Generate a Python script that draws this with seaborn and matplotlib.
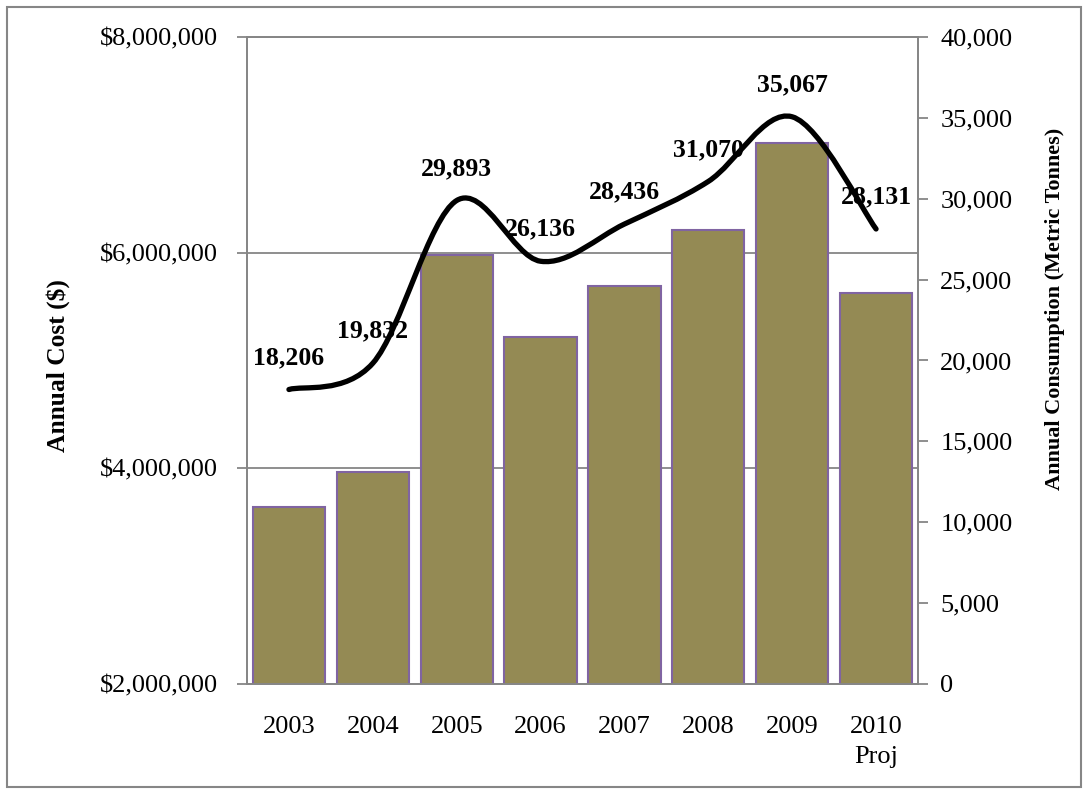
import numpy as np
import pandas as pd
import matplotlib
matplotlib.use("Agg")
import matplotlib.pyplot as plt
import seaborn as sns
from matplotlib.path import Path
from matplotlib.patches import PathPatch, Rectangle
from matplotlib.ticker import FuncFormatter

# Data
years = ["2003", "2004", "2005", "2006", "2007", "2008", "2009", "2010\nProj"]
cost = [3640000, 3970000, 5980000, 5220000, 5690000, 6210000, 7020000, 5630000]
consumption = [18206, 19832, 29893, 26136, 28436, 31070, 35067, 28131]

sns.set_theme(style="white")
plt.rcParams['font.family'] = ['Liberation Serif', 'DejaVu Serif']
plt.rcParams['text.color'] = 'black'
plt.rcParams['xtick.color'] = 'black'
plt.rcParams['ytick.color'] = 'black'

GRAY = "#868686"
fig = plt.figure(figsize=(10.89, 7.94), dpi=100)
ax = fig.add_axes([247/1089, 1-684/794, (918-247)/1089, (684-37)/794])

df = pd.DataFrame({"year": years, "cost": cost})
sns.barplot(data=df, x="year", y="cost", color="#948A54", saturation=1,
            width=0.86, edgecolor="#8064A2", linewidth=1.5, ax=ax)
ax.set_xlim(-0.5, len(years)-0.5)
ax.set_ylim(2000000, 8000000)
ax.set_yticks([2000000, 4000000, 6000000, 8000000])
ax.yaxis.set_major_formatter(FuncFormatter(lambda v, p: f"${v:,.0f}"))
ax.set_xlabel("")
ax.set_ylabel("")
ax.set_axisbelow(True)
ax.yaxis.grid(True, color=GRAY, linewidth=1.3)

# category labels centred, tick marks between categories
ax.set_xticks(np.arange(len(years)))
ax.set_xticklabels(years, linespacing=1.45)
ax.set_xticks(np.arange(-0.5, len(years), 1), minor=True)
ax.tick_params(axis='x', which='major', length=0, pad=23, labelsize=19, labelcolor='black')
ax.tick_params(axis='x', which='minor', length=7, width=1.3, color=GRAY, direction='out')
ax.tick_params(axis='y', length=7, width=1.3, color=GRAY, direction='out', left=True,
               pad=14, labelsize=19, labelcolor='black')
for s in ax.spines.values():
    s.set_color(GRAY)
    s.set_linewidth(1.3)

# consumption on the right axis, smooth line
ax2 = ax.twinx()
ax2.set_ylim(0, 40000)
ax2.set_yticks(np.arange(0, 40001, 5000))
ax2.yaxis.set_major_formatter(FuncFormatter(lambda v, p: f"{v:,.0f}"))
ax2.tick_params(axis='y', length=7, width=1.3, color=GRAY, direction='out', right=True,
                pad=9, labelsize=19, labelcolor='black')
for s in ax2.spines.values():
    s.set_color(GRAY)
    s.set_linewidth(1.3)

x = np.arange(len(consumption), dtype=float)
y = np.array(consumption, dtype=float)
px = np.r_[x[0], x, x[-1]]
py = np.r_[y[0], y, y[-1]]
verts = [(x[0], y[0])]
codes = [Path.MOVETO]
for i in range(len(x)-1):
    c1 = (x[i] + (px[i+2]-px[i])/6, y[i] + (py[i+2]-py[i])/6)
    c2 = (x[i+1] - (px[i+3]-px[i+1])/6, y[i+1] - (py[i+3]-py[i+1])/6)
    verts += [c1, c2, (x[i+1], y[i+1])]
    codes += [Path.CURVE4]*3
ax2.add_patch(PathPatch(Path(verts, codes), fill=False, edgecolor="black",
                        linewidth=3.8, capstyle='round', joinstyle='round', zorder=3))

for i, v in enumerate(consumption):
    ax2.annotate(f"{v:,}", (i, v), xytext=(0, 23), textcoords='offset points',
                 ha='center', va='center', fontsize=18.5, fontweight='bold', zorder=4)

fig.text(58/1089, 1-366/794, "Annual Cost ($)", rotation=90, ha='center', va='center',
         fontsize=18.4, fontweight='bold')
fig.text(1055/1089, 1-309/794, "Annual Consumption (Metric Tonnes)", rotation=90,
         ha='center', va='center', fontsize=16, fontweight='bold')

fig.patches.append(Rectangle((7/1089, 7/794), 1074/1089, 780/794, transform=fig.transFigure,
                             fill=False, edgecolor=GRAY, linewidth=1.5))

fig.savefig("out.png", dpi=100)
